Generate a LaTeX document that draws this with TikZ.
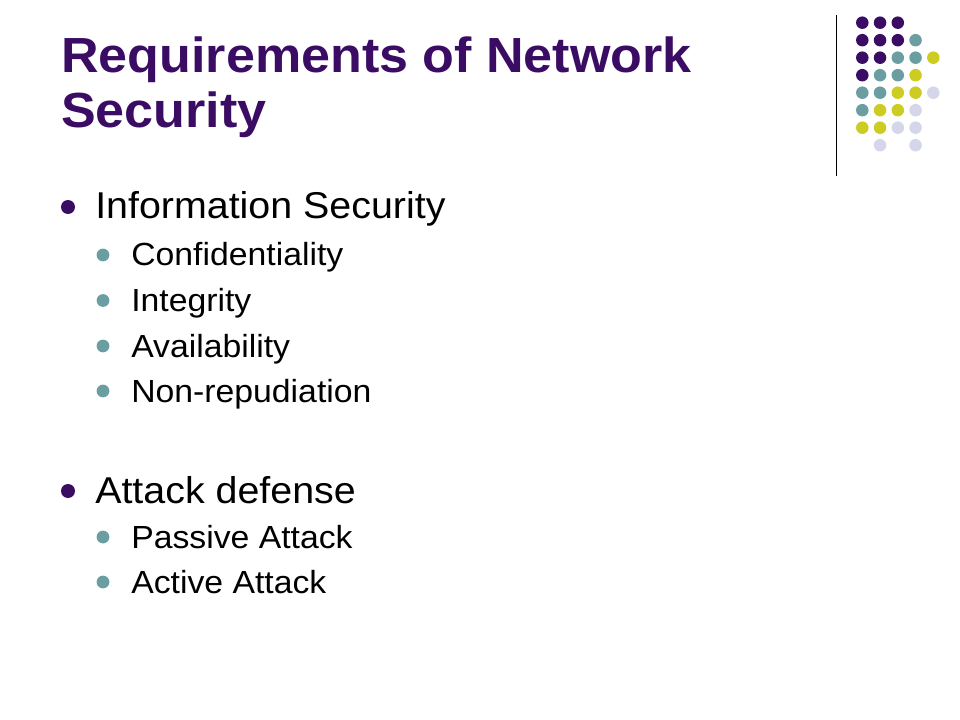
\documentclass[tikz,border=0pt]{standalone}
\usepackage{fontspec}
\setmainfont{Liberation Sans}
\newfontfamily\wideface[FakeStretch=1.055]{Liberation Sans}
\definecolor{tpurple}{RGB}{59,12,100}
\definecolor{tteal}{RGB}{106,158,163}
\definecolor{tyellow}{RGB}{204,204,34}
\definecolor{tlav}{RGB}{214,214,235}
\tikzset{
  titletext/.style={anchor=base west, inner sep=0pt, text=tpurple, font=\wideface\fontsize{37}{44}\selectfont\bfseries},
  lonetext/.style={anchor=base west, inner sep=0pt, font=\wideface\fontsize{28}{34}\selectfont},
  ltwotext/.style={anchor=base west, inner sep=0pt, font=\wideface\fontsize{24}{29}\selectfont},
  lonebullet/.style={circle, fill=tpurple, inner sep=0pt, minimum size=10.5pt},
  ltwobullet/.style={circle, fill=tteal, inner sep=0pt, minimum size=9.6pt},
  gdot/.style={circle, inner sep=0pt, minimum size=9.4pt},
}
\begin{document}
\begin{tikzpicture}[x=0.75pt,y=-0.75pt]
\useasboundingbox (0,0) rectangle (960,720);
\fill[white] (0,0) rectangle (960,720);
% title
\node[titletext] (t1) at (61,73) {Requirements of Network};
\node[titletext] (t2) at (61,127.5) {Security};
% divider line
\coordinate (ltop) at (836.5,15);
\coordinate (lbot) at (836.5,176);
\draw[line width=0.9pt, black] (ltop) -- (lbot);
% dot grid: row/column/colour
\foreach \r/\c/\col in {
  0/0/tpurple,0/1/tpurple,0/2/tpurple,
  1/0/tpurple,1/1/tpurple,1/2/tpurple,1/3/tteal,
  2/0/tpurple,2/1/tpurple,2/2/tteal,2/3/tteal,2/4/tyellow,
  3/0/tpurple,3/1/tteal,3/2/tteal,3/3/tyellow,
  4/0/tteal,4/1/tteal,4/2/tyellow,4/3/tyellow,4/4/tlav,
  5/0/tteal,5/1/tyellow,5/2/tyellow,5/3/tlav,
  6/0/tyellow,6/1/tyellow,6/2/tlav,6/3/tlav,
  7/1/tlav,7/3/tlav}{
  \node[gdot, fill=\col] (d\r\c) at (862.3+17.75*\c, 22.7+17.5*\r) {};
}
% level 1
\node[lonebullet] (b1) at (68,207) {};
\node[lonetext] (i1) at (95,219) {Information Security};
\node[ltwobullet] (b11) at (103,255) {};
\node[ltwotext] (i11) at (131,266) {Confidentiality};
\node[ltwobullet] (b12) at (103,300.5) {};
\node[ltwotext] (i12) at (131,311.5) {Integrity};
\node[ltwobullet] (b13) at (103,346) {};
\node[ltwotext] (i13) at (131,357) {Availability};
\node[ltwobullet] (b14) at (103,391) {};
\node[ltwotext] (i14) at (131,402) {Non-repudiation};
\node[lonebullet] (b2) at (68,491) {};
\node[lonetext] (i2) at (95,503) {Attack defense};
\node[ltwobullet] (b21) at (103,537) {};
\node[ltwotext] (i21) at (131,548) {Passive Attack};
\node[ltwobullet] (b22) at (103,582) {};
\node[ltwotext] (i22) at (131,593) {Active Attack};
\end{tikzpicture}
\end{document}
